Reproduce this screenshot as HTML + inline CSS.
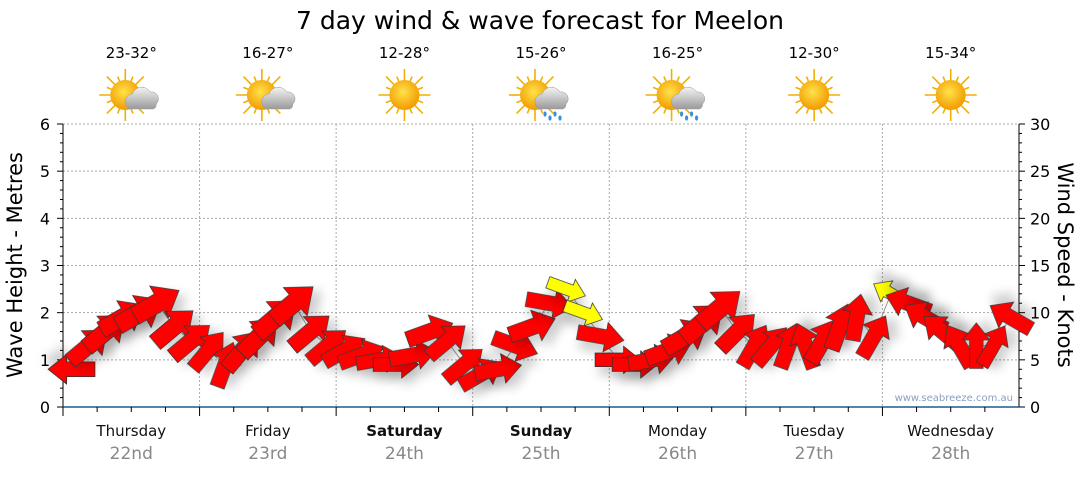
<!DOCTYPE html>
<html><head><meta charset="utf-8"><style>
body{margin:0;background:#fff;font-family:"Liberation Sans","DejaVu Sans",sans-serif}
svg text{font-family:"DejaVu Sans","Liberation Sans",sans-serif}
</style></head><body>
<svg id="chart" width="1080" height="475" xmlns="http://www.w3.org/2000/svg">
<defs>
<filter id="sh" x="-50%" y="-50%" width="200%" height="200%"><feDropShadow dx="4" dy="9" stdDeviation="5" flood-color="#000" flood-opacity="0.18"/></filter>
<radialGradient id="sun" cx="0.45" cy="0.4" r="0.6"><stop offset="0" stop-color="#ffe24a"/><stop offset="1" stop-color="#f29a00"/></radialGradient>
<linearGradient id="cloud" x1="0" y1="0" x2="0" y2="1"><stop offset="0" stop-color="#f4f4f4"/><stop offset="1" stop-color="#9a9a9a"/></linearGradient>
</defs>
<text x="540" y="29" font-size="25" text-anchor="middle">7 day wind &amp; wave forecast for Meelon</text>
<g id="grid"></g><g id="axes"></g><g id="header"></g><g id="series"></g>
<text transform="translate(22,265) rotate(-90)" font-size="21" text-anchor="middle">Wave Height - Metres</text>
<text transform="translate(1058,265) rotate(90)" font-size="21" text-anchor="middle">Wind Speed - Knots</text>
<text x="1013" y="401" font-size="10" fill="#8aa0c0" text-anchor="end">www.seabreeze.com.au</text>
</svg>
<script>
const days=["Thursday","Friday","Saturday","Sunday","Monday","Tuesday","Wednesday"];
const dates=["22nd","23rd","24th","25th","26th","27th","28th"];
const temps=["23-32°","16-27°","12-28°","15-26°","16-25°","12-30°","15-34°"];
const icons=["partcloud","partcloud","sun","rain","rain","sun","sun"];
const waveTicks=[0,1,2,3,4,5,6];
const windTicks=[0,5,10,15,20,25,30];
const waves=[0.8,1.3,1.6,1.9,2.0,2.2,1.7,1.4, 1.2,0.9,1.2,1.5,1.9,2.2,1.6,1.3, 1.2,1.1,1.0,0.9,1.1,1.6,1.4,0.9, 0.7,0.8,1.3,1.7,2.2,2.5,2.0,1.5, 1.0,0.9,1.0,1.2,1.5,1.8,2.1,1.6, 1.3,1.3,1.3,1.3,1.4,1.7,1.9,1.5, 2.4,2.2,1.9,1.6,1.3,1.3,1.3,1.9];
const winds=[12,13,14,14,15,15,14,13, 12,12,13,14,15,15,13,12, 12,12,11,11,12,13,12,12, 12,12,12,13,12,7,7,12, 11,11,12,13,14,15,15,13, 12,12,12,12,13,13,12,12, 7,12,12,12,12,11,11,12];
const dirs=[180,-40,-40,-30,-30,-30,-40,-40, -50,-70,-50,-45,-40,-40,-40,-40, -30,-20,-10,0,-10,-20,-40,-40, -30,-10,20,-20,10,20,20,10, 0,0,-10,-20,-30,-40,-40,-45, -60,-50,-70,-110,-60,-70,-80,-60, -150,-160,-150,-140,-120,-90,-60,-150];
const NS="http://www.w3.org/2000/svg";
const X0=63,X1=1019,Y0=407,Y1=124;
const dayW=(X1-X0)/7;
const yW=v=>Y0-(v/6)*(Y0-Y1);
const yK=v=>Y0-(v/30)*(Y0-Y1);
const xS=i=>X0+(i+0.5)*dayW/8;
function mk(tag,attrs,parent){const e=document.createElementNS(NS,tag);for(const k in attrs)e.setAttribute(k,attrs[k]);parent.appendChild(e);return e;}
const grid=document.getElementById('grid'),axes=document.getElementById('axes'),header=document.getElementById('header'),series=document.getElementById('series');
waveTicks.forEach(v=>{if(v>0){const l=mk('line',{x1:X0,x2:X1,y1:yW(v),y2:yW(v),stroke:'#aaa','stroke-dasharray':'2,2'},grid);

}
const t=mk('text',{x:50,y:yW(v)+6,'font-size':16,'text-anchor':'end'},axes);t.textContent=v;


mk('line',{x1:X0-6,x2:X0,y1:yW(v),y2:yW(v),stroke:'#000'},axes);
if(v<6)for(let k=1;k<5;k++)mk('line',{x1:X0-3,x2:X0,y1:yW(v+k/5),y2:yW(v+k/5),stroke:'#000'},axes);});
windTicks.forEach(v=>{const t=mk('text',{x:1030,y:yK(v)+6,'font-size':16},axes);t.textContent=v;


mk('line',{x1:X1,x2:X1+6,y1:yK(v),y2:yK(v),stroke:'#000'},axes);
if(v<30)for(let k=1;k<5;k++)mk('line',{x1:X1,x2:X1+3,y1:yK(v+k),y2:yK(v+k),stroke:'#000'},axes);});
mk('line',{x1:X0,x2:X0,y1:Y1,y2:Y0,stroke:'#000'},axes);
mk('line',{x1:X1,x2:X1,y1:Y1,y2:Y0,stroke:'#000'},axes);
mk('line',{x1:X0,x2:X1,y1:Y0,y2:Y0,stroke:'#1f5a8a','stroke-width':1.5},axes);
for(let d=0;d<7;d++){const xb=X0+d*dayW,xc=xb+dayW/2;
if(d>0){const g=mk('line',{x1:xb,x2:xb,y1:Y1,y2:Y0,stroke:'#aaa','stroke-dasharray':'2,2'},grid);

}
mk('line',{x1:xb,x2:xb,y1:Y0,y2:Y0+9,stroke:'#000'},axes);
for(let k=1;k<4;k++)mk('line',{x1:xb+k*dayW/4,x2:xb+k*dayW/4,y1:Y0,y2:Y0+5,stroke:'#000'},axes);
const w=mk('text',{x:xc,y:436,'font-size':15,'text-anchor':'middle','font-weight':(d==2||d==3)?'bold':'normal',fill:'#111'},axes);w.textContent=days[d];


const dt=mk('text',{x:xc,y:459,'font-size':17,'text-anchor':'middle',fill:'#888'},axes);dt.textContent=dates[d];


const tt=mk('text',{x:xc,y:58,'font-size':15,'text-anchor':'middle'},header);tt.textContent=temps[d];


const g=mk('g',{transform:`translate(${xc},95)`},header);


const sx=icons[d]=='sun'?0:-6;
for(let r=0;r<16;r++){const a=r*Math.PI/8,L=r%2?20:26;mk('line',{x1:sx+Math.cos(a)*10,y1:Math.sin(a)*10,x2:sx+Math.cos(a)*L,y2:Math.sin(a)*L,stroke:'#f0b000','stroke-width':1.6},g);}
mk('circle',{cx:sx,cy:0,r:15,fill:'url(#sun)'},g);
if(icons[d]!='sun'){mk('path',{d:'M-2,14 a8,8 0 0 1 3,-15 a10,10 0 0 1 18,-2 a7,7 0 0 1 6,12 a5,5 0 0 1 -3,5 z',fill:'url(#cloud)',stroke:'#999','stroke-width':0.5},g);
if(icons[d]=='rain')for(let k=0;k<4;k++)mk('ellipse',{cx:4+k*5,cy:19+(k%2)*4,rx:1.6,ry:2.6,fill:'#3a8fd8'},g);}}
let pts=waves.map((v,i)=>xS(i)+','+yW(v)).join(' ');
const pl=mk('polyline',{points:pts,fill:'none',stroke:'#999','stroke-width':1},series);


waves.forEach((v,i)=>{const s=Math.max(winds[i]/13,0.75),L=30+winds[i]*1.4;
const hw=8*s,hh=16*s,hl=20*s;
const d=`M${-L/2},${-hw} L${L/2-hl},${-hw} L${L/2-hl},${-hh} L${L/2},0 L${L/2-hl},${hh} L${L/2-hl},${hw} L${-L/2},${hw} Z`;
const a=mk('path',{d:d,transform:`translate(${xS(i)},${yW(v)}) rotate(${dirs[i]})`,fill:winds[i]<9?'#ffff00':'#ff0000',stroke:'#333','stroke-width':0.8,filter:'url(#sh)'},series);

});
</script>
</body></html>
